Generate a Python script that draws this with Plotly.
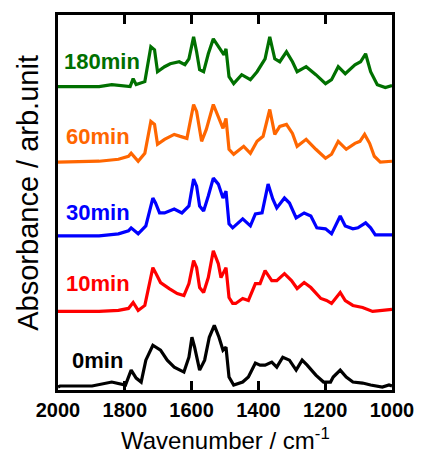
import plotly.graph_objects as go

# ---- data (absorbance, arbitrary units, above each trace's own baseline) ----
labels = ["0min", "10min", "30min", "60min", "180min"]
colors = ["#000000", "#ff0000", "#0000ff", "#ff6600", "#007000"]
offsets = [0.01, 0.79, 1.55, 2.29, 3.04]

wn_0 = [2000, 1994, 1898, 1854, 1839, 1798, 1781, 1766, 1751, 1737, 1716, 1693, 1673, 1652, 1623,
        1608, 1599, 1591, 1576, 1561, 1547, 1532, 1518, 1506, 1497, 1488, 1474, 1447, 1430, 1409,
        1395, 1380, 1360, 1345, 1327, 1307, 1287, 1269, 1254, 1228, 1205, 1184, 1176, 1155, 1137,
        1117, 1088, 1064, 1029, 1009, 1000]
abs_0 = [0.02, 0.03, 0.03, 0.06, 0.07, 0.04, 0.19, 0.11, 0.07, 0.29, 0.44, 0.39, 0.29, 0.22, 0.17,
         0.32, 0.52, 0.42, 0.19, 0.29, 0.52, 0.64, 0.52, 0.39, 0.42, 0.12, 0.04, 0.07, 0.12, 0.26,
         0.24, 0.24, 0.27, 0.22, 0.32, 0.29, 0.19, 0.29, 0.24, 0.14, 0.07, 0.07, 0.12, 0.19, 0.12,
         0.07, 0.06, 0.04, 0.02, 0.04, 0.03]

wn_10 = [2000, 1877, 1819, 1789, 1775, 1760, 1740, 1716, 1708, 1693, 1667, 1643, 1623, 1608, 1594,
         1585, 1576, 1564, 1550, 1535, 1520, 1512, 1497, 1488, 1477, 1468, 1447, 1430, 1409, 1395,
         1380, 1360, 1345, 1322, 1301, 1284, 1263, 1243, 1213, 1196, 1181, 1155, 1140, 1117, 1088,
         1058, 1029, 1009, 1000]
abs_10 = [0.00, 0.00, 0.01, 0.03, 0.09, 0.01, 0.06, 0.44, 0.39, 0.29, 0.23, 0.18, 0.16, 0.28, 0.51,
          0.44, 0.24, 0.19, 0.34, 0.61, 0.48, 0.34, 0.44, 0.14, 0.08, 0.08, 0.13, 0.11, 0.28, 0.28,
          0.41, 0.31, 0.31, 0.38, 0.31, 0.23, 0.29, 0.24, 0.13, 0.11, 0.08, 0.19, 0.11, 0.06, 0.04,
          0.00, 0.01, 0.02, 0.02]

wn_30 = [2000, 1877, 1819, 1789, 1781, 1760, 1737, 1716, 1708, 1696, 1681, 1652, 1629, 1608, 1594,
         1585, 1576, 1564, 1550, 1535, 1520, 1506, 1497, 1488, 1477, 1447, 1424, 1409, 1389, 1371,
         1357, 1345, 1322, 1307, 1287, 1263, 1243, 1225, 1199, 1181, 1155, 1140, 1117, 1102, 1079,
         1064, 1050, 1006, 1000]
abs_30 = [0.00, 0.00, 0.02, 0.05, 0.08, 0.02, 0.10, 0.38, 0.33, 0.23, 0.23, 0.27, 0.23, 0.30, 0.57,
          0.50, 0.30, 0.25, 0.40, 0.58, 0.52, 0.38, 0.45, 0.12, 0.08, 0.17, 0.10, 0.22, 0.23, 0.52,
          0.37, 0.28, 0.38, 0.33, 0.18, 0.23, 0.20, 0.08, 0.07, 0.02, 0.20, 0.10, 0.07, 0.08, 0.13,
          0.08, 0.01, 0.01, 0.01]

wn_60 = [2000, 1877, 1819, 1789, 1781, 1760, 1740, 1722, 1711, 1702, 1681, 1652, 1634, 1614, 1594,
         1585, 1570, 1556, 1535, 1518, 1506, 1497, 1488, 1474, 1444, 1424, 1404, 1386, 1366, 1351,
         1336, 1316, 1298, 1284, 1257, 1228, 1199, 1181, 1161, 1137, 1111, 1096, 1082, 1067, 1053,
         1035, 1006, 1000]
abs_60 = [0.00, 0.01, 0.03, 0.06, 0.09, 0.01, 0.09, 0.41, 0.38, 0.18, 0.23, 0.28, 0.26, 0.24, 0.58,
          0.51, 0.21, 0.33, 0.58, 0.44, 0.34, 0.44, 0.13, 0.08, 0.16, 0.09, 0.21, 0.26, 0.53, 0.28,
          0.36, 0.38, 0.29, 0.16, 0.23, 0.13, 0.04, 0.08, 0.21, 0.13, 0.19, 0.21, 0.28, 0.19, 0.06,
          0.00, 0.01, 0.01]

wn_180 = [2000, 1877, 1839, 1784, 1775, 1766, 1740, 1722, 1711, 1702, 1681, 1664, 1637, 1620, 1608,
          1594, 1585, 1576, 1564, 1550, 1535, 1520, 1503, 1497, 1488, 1474, 1450, 1424, 1404, 1380,
          1366, 1351, 1336, 1316, 1298, 1284, 1257, 1228, 1199, 1181, 1161, 1140, 1111, 1094, 1079,
          1064, 1044, 1020, 1006, 1000]
abs_180 = [0.01, 0.01, 0.03, 0.01, 0.09, 0.03, 0.06, 0.41, 0.38, 0.16, 0.21, 0.24, 0.26, 0.23, 0.29,
           0.51, 0.36, 0.18, 0.16, 0.34, 0.49, 0.41, 0.33, 0.39, 0.11, 0.04, 0.13, 0.08, 0.16, 0.29,
           0.51, 0.29, 0.26, 0.36, 0.26, 0.16, 0.21, 0.13, 0.04, 0.08, 0.21, 0.14, 0.23, 0.26, 0.34,
           0.16, 0.03, 0.00, 0.02, 0.02]

x_ticks = [2000, 1800, 1600, 1400, 1200, 1000]

wns = [wn_0, wn_10, wn_30, wn_60, wn_180]
absorb = [abs_0, abs_10, abs_30, abs_60, abs_180]
label_pos = [(1965, 0.30), (1983, 1.07), (1983, 1.78), (1983, 2.55), (1988, 3.30)]

FONT = "Liberation Sans, Arial, sans-serif"

fig = go.Figure()
for wn, a, off, c in zip(wns, absorb, offsets, colors):
    fig.add_trace(go.Scatter(x=wn, y=[v + off for v in a], mode="lines",
                             line=dict(color=c, width=3.2), showlegend=False,
                             hoverinfo="skip"))

annotations = []
for lab, (lx, ly), c in zip(labels, label_pos, colors):
    annotations.append(dict(x=lx, y=ly, xref="x", yref="y", text="<b>%s</b>" % lab,
                            showarrow=False, xanchor="left", yanchor="middle",
                            font=dict(family=FONT, size=22, color=c)))

annotations.append(dict(x=0.5, y=-0.13, xref="paper", yref="paper",
                        text="Wavenumber / cm<sup>-1</sup>", showarrow=False,
                        xanchor="center", yanchor="middle",
                        font=dict(family=FONT, size=24, color="#000")))
annotations.append(dict(x=-0.088, y=0.525, xref="paper", yref="paper",
                        text="Absorbance / arb.unit", showarrow=False, textangle=-90,
                        xanchor="center", yanchor="middle",
                        font=dict(family=FONT, size=29, color="#000")))

fig.update_layout(
    width=426, height=454,
    margin=dict(l=58, r=26, t=13, b=64),
    paper_bgcolor="white", plot_bgcolor="white",
    annotations=annotations,
    xaxis=dict(range=[2000, 1000], tickvals=x_ticks, ticktext=[str(t) for t in x_ticks],
               ticks="inside", ticklen=9, tickwidth=2.5, tickcolor="black",
               showline=True, linewidth=2.5, linecolor="black", mirror="ticks",
               showgrid=False, zeroline=False,
               tickfont=dict(family=FONT, size=20, color="black", weight="bold")),
    yaxis=dict(range=[0, 3.77], showticklabels=False, ticks="",
               showline=True, linewidth=2.5, linecolor="black", mirror=True,
               showgrid=False, zeroline=False),
)

fig.write_html("out.html", config={"displayModeBar": False},
               post_script="document.body.style.margin='0';document.body.style.padding='0';")
